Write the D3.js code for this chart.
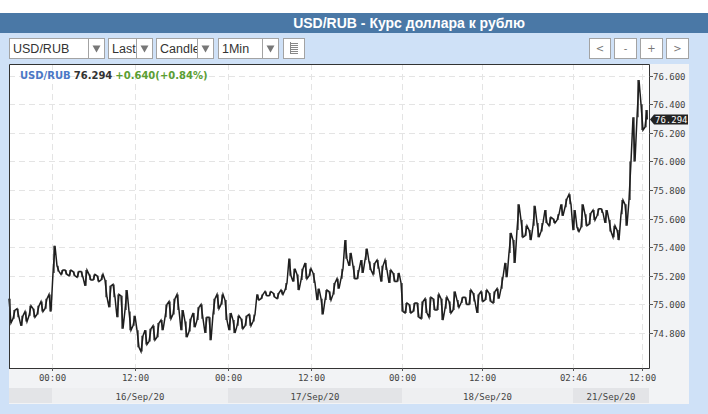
<!DOCTYPE html>
<html><head><meta charset="utf-8">
<script src="https://cdn.jsdelivr.net/npm/d3@7"></script>
<style>body{margin:0;background:#fff;} svg{display:block}</style>
</head><body><svg id="c" width="708" height="414"></svg>
<script>
const hi=[75.04,74.96,74.97,74.92,74.95,74.99,74.97,74.99,75.02,75.04,
75.07,75.41,75.27,75.24,75.24,75.24,75.23,75.23,75.23,75.24,
75.21,75.21,75.20,75.21,75.17,75.13,75.14,75.07,75.06,75.10,
74.95,74.92,74.82,74.78,74.82,74.83,74.85,74.87,74.89,75.00,
75.02,75.04,75.07,74.96,74.88,74.90,74.94,74.98,75.00,74.91,
74.91,75.04,75.07,75.07,75.03,74.94,74.89,74.92,74.90,74.92,
74.93,74.93,75.07,75.07,75.09,75.09,75.08,75.08,75.10,75.15,
75.32,75.25,75.21,75.25,75.29,75.25,75.22,75.11,75.04,75.10,
75.09,75.15,75.18,75.25,75.45,75.36,75.27,75.24,75.31,75.39,
75.30,75.29,75.31,75.27,75.31,75.24,75.22,75.22,75.15,75.01,
75.00,75.01,75.01,75.02,75.04,75.05,75.04,75.07,75.04,75.05,
75.02,75.09,75.03,75.05,75.05,75.10,75.08,75.07,75.09,75.10,
75.08,75.09,75.11,75.19,75.29,75.50,75.45,75.70,75.59,75.55,
75.52,75.69,75.57,75.57,75.66,75.61,75.60,75.63,75.70,75.74,
75.77,75.66,75.54,75.70,75.63,75.64,75.66,75.67,75.67,75.66,
75.59,75.55,75.52,75.73,75.70,76.00,76.31,76.57,76.40,76.36];
const lo=[74.87,74.90,74.91,74.85,74.88,74.92,74.91,74.93,74.95,74.97,
74.95,75.22,75.23,75.21,75.21,75.20,75.20,75.19,75.19,75.13,
75.17,75.17,75.16,75.17,75.05,74.98,75.05,74.91,74.83,74.96,
74.82,74.85,74.70,74.67,74.72,74.74,74.75,74.77,74.82,74.91,
74.90,74.93,74.96,74.82,74.77,74.81,74.84,74.89,74.90,74.80,
74.75,74.93,74.97,75.00,74.89,74.82,74.80,74.85,74.83,74.85,
74.85,74.88,75.03,75.04,75.06,75.06,75.05,75.04,75.07,75.10,
75.20,75.16,75.10,75.17,75.18,75.20,75.15,75.03,74.93,75.03,
75.03,75.07,75.11,75.18,75.32,75.27,75.18,75.18,75.22,75.31,
75.24,75.21,75.25,75.16,75.24,75.15,75.16,75.16,74.95,74.94,
74.94,74.95,74.91,74.90,74.94,74.91,74.96,74.96,74.89,74.97,
74.94,74.96,74.98,75.01,75.00,75.00,75.02,74.94,75.02,75.03,
75.02,75.01,75.04,75.11,75.19,75.36,75.29,75.52,75.47,75.48,
75.45,75.55,75.47,75.51,75.57,75.55,75.57,75.59,75.62,75.68,
75.70,75.52,75.51,75.54,75.55,75.56,75.59,75.62,75.64,75.57,
75.51,75.47,75.45,75.63,75.55,75.73,76.00,76.31,76.22,76.24];
const lastPrice=76.294;
const changeText="+0.640(+0.84%)";
const symbol="USD/RUB";
const title="USD/RUB - Курс доллара к рублю";
const yTicks=[74.8,75.0,75.2,75.4,75.6,75.8,76.0,76.2,76.4,76.6];
const timeTickIdx=[10.5,31.25,54.5,75.25,98,118,140.75,158];
const timeTickLabels=["00:00","12:00","00:00","12:00","00:00","12:00","02:46","12:00"];
const dayBounds=[-0.25,10.5,54.5,98,140.75,159.75];
const dayLabels=["","16/Sep/20","17/Sep/20","18/Sep/20","21/Sep/20"];
const dropdowns=[["USD/RUB",9,104,88],["Last",108,152,136],["Candle",156,213,197],["1Min",218,278,262]];
const navButtons=[["<",589,610],["-",614,636],["+",640,662],[">",666,688]];

const svg=d3.select("#c");
const L=9,R=649,T=64,B=368;
const x=d3.scaleLinear().domain([0,hi.length-1]).range([10,646]);
const y=d3.scaleLinear().domain([74.555,76.682]).range([B,T]);
const mono="'DejaVu Sans Mono', monospace";
const sans="'Liberation Sans', Arial, sans-serif";

// backgrounds
svg.append("rect").attr("x",0).attr("y",0).attr("width",708).attr("height",414).attr("fill","#fff");
svg.append("rect").attr("x",0).attr("y",33).attr("width",708).attr("height",381).attr("fill","#cfe1f7");
svg.append("rect").attr("x",0).attr("y",13).attr("width",708).attr("height",20).attr("fill","#4a78a6");
svg.append("text").attr("x",409).attr("y",28).attr("text-anchor","middle")
  .attr("font-family",sans).attr("font-weight","bold")
  .attr("font-size",14).attr("fill","#fff").text(title);

// toolbar
const defs=svg.append("defs");
const tb=svg.append("g");
dropdowns.forEach(([t,x0,x1,dv],k)=>{
  defs.append("clipPath").attr("id","dd"+k).append("rect").attr("x",x0+1).attr("y",38).attr("width",dv-x0-1).attr("height",21);
  tb.append("rect").attr("x",x0+0.5).attr("y",38.5).attr("width",dv-x0).attr("height",20).attr("fill","#fff").attr("stroke","#a3a3a3");
  tb.append("rect").attr("x",dv+0.5).attr("y",38.5).attr("width",x1-dv).attr("height",20).attr("fill","#fff").attr("stroke","#a3a3a3");
  tb.append("text").attr("x",x0+4).attr("y",53).attr("font-family",sans)
    .attr("font-size",12.5).attr("fill","#333").attr("clip-path",`url(#dd${k})`).text(t);
  const cx=(dv+x1)/2+0.5;
  tb.append("path").attr("d",`M${cx-4},45.5L${cx+4},45.5L${cx},52.5Z`).attr("fill","#777");
});
tb.append("rect").attr("x",283.5).attr("y",38.5).attr("width",21).attr("height",20).attr("fill","#fff").attr("stroke","#a3a3a3");
[43,45,47,49,51,53].forEach(v=>tb.append("line").attr("x1",291).attr("x2",298).attr("y1",v+0.5).attr("y2",v+0.5).attr("stroke","#888"));
tb.append("line").attr("x1",290.5).attr("x2",290.5).attr("y1",42).attr("y2",54).attr("stroke","#888");
navButtons.forEach(([t,x0,x1])=>{
  tb.append("rect").attr("x",x0+0.5).attr("y",38.5).attr("width",x1-x0).attr("height",20).attr("fill","#fff").attr("stroke","#a3a3a3");
  tb.append("text").attr("x",(x0+x1)/2+0.5).attr("y",52).attr("text-anchor","middle")
    .attr("font-family","'DejaVu Sans', sans-serif").attr("font-size",10).attr("fill","#777").text(t);
});

// axis panels
svg.append("rect").attr("x",R).attr("y",T).attr("width",40).attr("height",340).attr("fill","#f2f3f5");
svg.append("rect").attr("x",L).attr("y",B).attr("width",680).attr("height",36).attr("fill","#f2f3f5");
for(let i=0;i<dayLabels.length;i++){
  const a=x(dayBounds[i]),b=x(dayBounds[i+1]);
  svg.append("rect").attr("x",a).attr("y",388).attr("width",b-a).attr("height",15)
    .attr("fill",i%2===0?"#e3e4e7":"#eeeff1");
  if(dayLabels[i]) svg.append("text").attr("x",(a+b)/2).attr("y",400).attr("text-anchor","middle")
    .attr("font-family",mono).attr("font-size",9).attr("fill","#444").text(dayLabels[i]);
}

// plot
svg.append("rect").attr("x",L).attr("y",T).attr("width",R-L).attr("height",B-T).attr("fill","#fff");
const grid=svg.append("g").attr("stroke","#e4e4e4").attr("stroke-dasharray","6,4");
yTicks.forEach(v=>grid.append("line").attr("x1",L).attr("x2",R).attr("y1",Math.round(y(v))+0.5).attr("y2",Math.round(y(v))+0.5));
timeTickIdx.forEach(v=>grid.append("line").attr("y1",T).attr("y2",B).attr("x1",Math.round(x(v))+0.5).attr("x2",Math.round(x(v))+0.5));

// price path (high/low zigzag per column)
const pts=[];
hi.forEach((h,i)=>{
  const l=lo[i];
  if(i%2===0){pts.push([x(i-0.25),y(h)]);pts.push([x(i+0.25),y(l)]);}
  else{pts.push([x(i-0.25),y(l)]);pts.push([x(i+0.25),y(h)]);}
});
pts.push([x(hi.length-0.7),y(lastPrice)]);
svg.append("path").attr("d",d3.line()(pts)).attr("fill","none").attr("stroke","#1e1e1e").attr("stroke-width",1.5);
hi.forEach((h,i)=>svg.append("line").attr("x1",x(i)).attr("x2",x(i)).attr("y1",y(h)).attr("y2",y(lo[i])).attr("stroke","#1e1e1e").attr("stroke-width",1.2));

// border
svg.append("path").attr("d",`M${L+0.5},${B}V${T+0.5}H${R+0.5}V${B+0.5}H${L}`).attr("fill","none").attr("stroke","#333");

// y axis
const ya=svg.append("g");
yTicks.forEach(v=>{
  const yy=Math.round(y(v))+0.5;
  ya.append("line").attr("x1",R).attr("x2",R+4).attr("y1",yy).attr("y2",yy).attr("stroke","#555");
  ya.append("text").attr("x",R+4).attr("y",yy+3.2).attr("font-family",mono).attr("font-size",9).attr("fill","#444").text(v.toFixed(3));
});
// x axis
timeTickIdx.forEach((v,i)=>{
  const xx=Math.round(x(v))+0.5;
  svg.append("line").attr("x1",xx).attr("x2",xx).attr("y1",B).attr("y2",B+3).attr("stroke","#555");
  svg.append("text").attr("x",xx).attr("y",381).attr("text-anchor","middle").attr("font-family",mono)
    .attr("font-size",9).attr("fill","#444").text(timeTickLabels[i]);
});

// last price marker
const ly=y(lastPrice);
svg.append("path").attr("d",`M${R+1},${ly}L${R+5},${ly-5}H${R+39}V${ly+5}H${R+5}Z`).attr("fill","#222");
svg.append("text").attr("x",R+6).attr("y",ly+3.3).attr("font-family",mono).attr("font-size",9).attr("fill","#fff").text(lastPrice.toFixed(3));

// legend
const lg=svg.append("text").attr("x",20).attr("y",79).attr("font-family","'DejaVu Sans', Verdana, sans-serif").attr("font-weight","bold").attr("font-size",10);
lg.append("tspan").attr("fill","#4b78c6").text(symbol);
lg.append("tspan").attr("fill","#333").attr("dx",3).text(lastPrice.toFixed(3));
lg.append("tspan").attr("fill","#5b9e33").attr("dx",3).text(changeText);
</script></body></html>
